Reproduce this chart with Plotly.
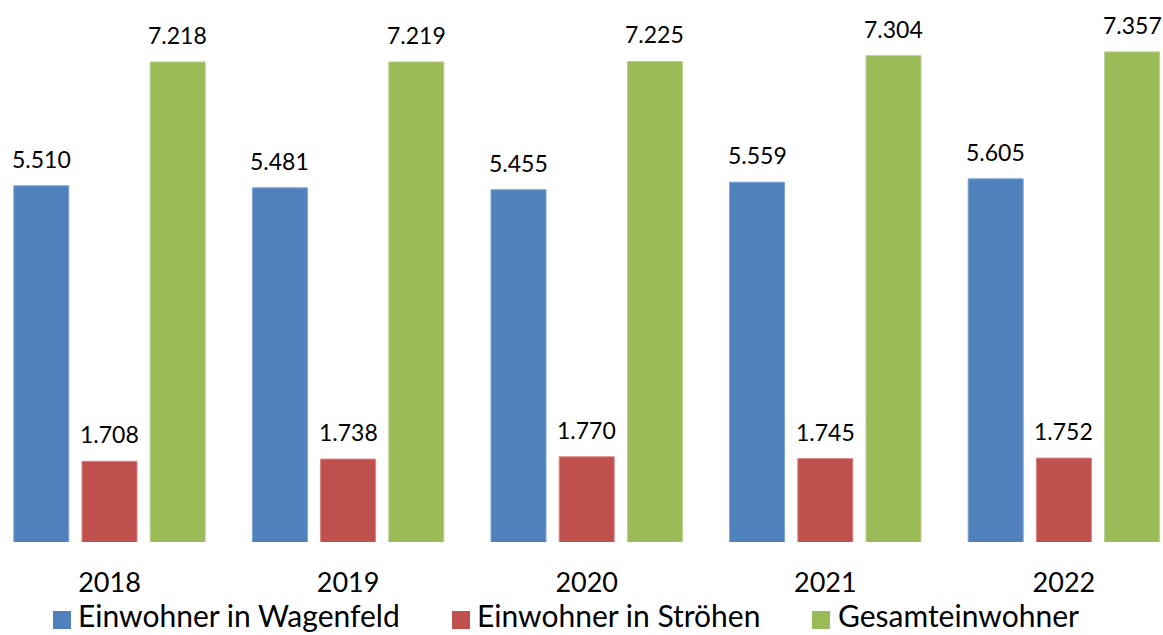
import plotly.graph_objects as go

# ---- data ----
years = ["2018", "2019", "2020", "2021", "2022"]
wagenfeld = [5510, 5481, 5455, 5559, 5605]
stroehen = [1708, 1738, 1770, 1745, 1752]
gesamt = [7218, 7219, 7225, 7304, 7357]
series_names = ["Einwohner in Wagenfeld", "Einwohner in Ströhen", "Gesamteinwohner"]
series_values = [wagenfeld, stroehen, gesamt]
colors = ["#4F81BD", "#C0504D", "#9BBB59"]
edge_colors = ["#7FA3D3", "#D98583", "#B8D08A"]

# ---- layout geometry ----
W, H = 1163, 635
plot_h = 542
bargap = 0.1425
bargroupgap = 0.1935
FONT = "Lato"


def de_fmt(v):
    return f"{v:,}".replace(",", ".")


def px(p):
    return p / W


def py(p):
    return (plot_h - p) / plot_h


fig = go.Figure()
for name, vals, col, ecol in zip(series_names, series_values, colors, edge_colors):
    fig.add_trace(go.Bar(
        x=years, y=vals, name=name,
        marker=dict(color=col, line=dict(color=ecol, width=1)),
        showlegend=False,
        hoverinfo="x+y+name",
    ))

annotations = []
n = len(series_values)
slot = (1 - bargap) / n
for j, vals in enumerate(series_values):
    off = (j - (n - 1) / 2) * slot
    for i, v in enumerate(vals):
        annotations.append(dict(
            x=i + off, y=v, xref="x", yref="y",
            text=de_fmt(v), showarrow=False,
            yanchor="bottom", xanchor="center", yshift=11,
            font=dict(family=FONT, size=23, color="#000000"),
        ))

# custom legend
legend_sq = [53, 452, 812]
legend_tx = [76, 475, 836]
shapes = []
for sx, tx, name, col in zip(legend_sq, legend_tx, series_names, colors):
    shapes.append(dict(type="rect", xref="paper", yref="paper",
                       x0=px(sx), x1=px(sx + 18), y0=py(629), y1=py(611),
                       fillcolor=col, line=dict(width=0)))
    annotations.append(dict(
        x=px(tx), y=py(634.5), xref="paper", yref="paper",
        text=name, showarrow=False, xanchor="left", yanchor="bottom",
        font=dict(family=FONT, size=30, color="#000000"),
    ))

cat_px = 238.6
x0 = -109.5 / cat_px
x1 = x0 + W / cat_px
fig.update_layout(
    width=W, height=H,
    margin=dict(l=0, r=0, t=0, b=H - plot_h, pad=0),
    paper_bgcolor="white", plot_bgcolor="white",
    barmode="group", bargap=bargap, bargroupgap=bargroupgap,
    font=dict(family=FONT, color="#000000"),
    xaxis=dict(range=[x0, x1], showgrid=False, zeroline=False, showline=False,
               ticks="outside", ticklen=17, tickcolor="rgba(0,0,0,0)",
               tickfont=dict(family=FONT, size=27, color="#000000"),
               fixedrange=True),
    yaxis=dict(range=[594, 594 + plot_h / 0.07247], showgrid=False,
               zeroline=False, showline=False, showticklabels=False,
               fixedrange=True),
    annotations=annotations,
    shapes=shapes,
    showlegend=False,
)

fig.write_html("out.html", config={"displayModeBar": False},
               post_script="document.body.style.margin='0';")
